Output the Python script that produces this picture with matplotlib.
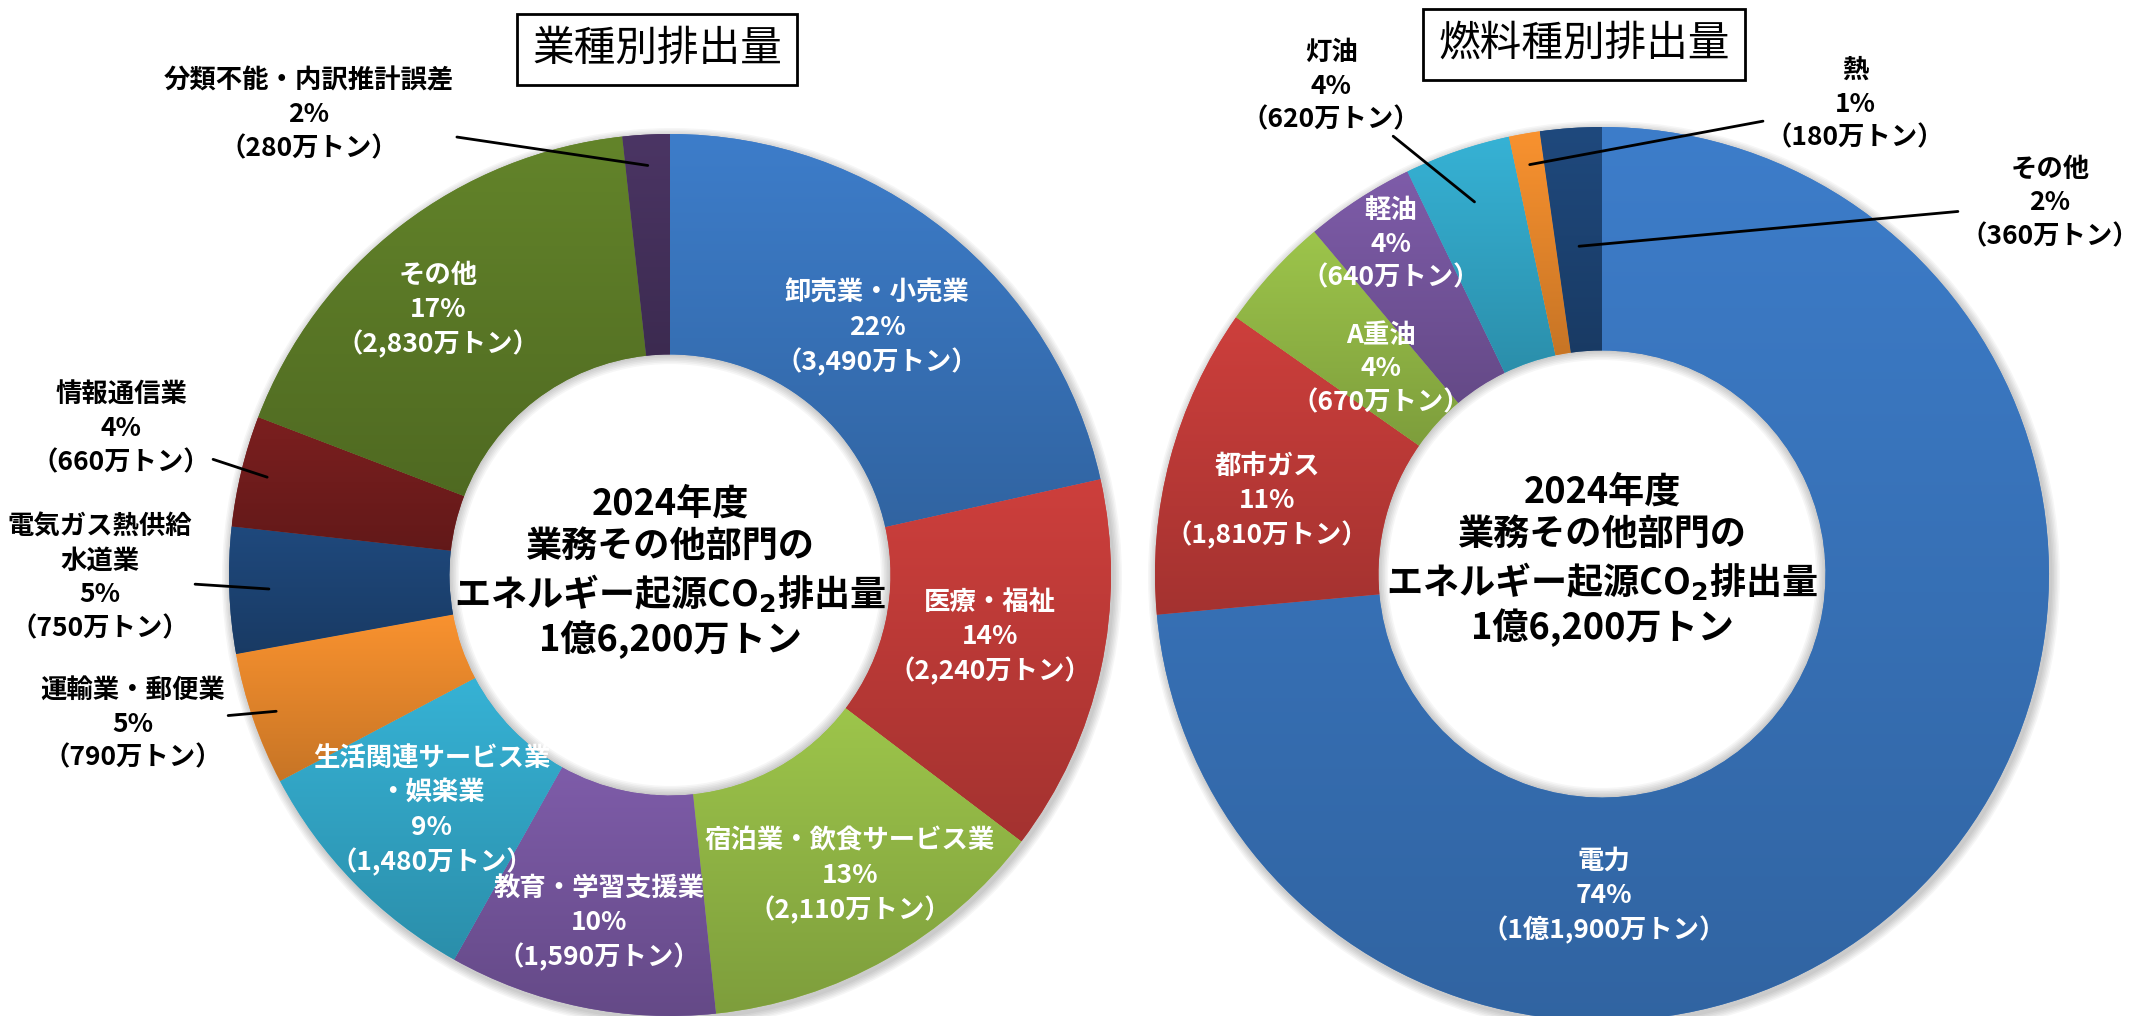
import numpy as np
import matplotlib
matplotlib.use('Agg')
import matplotlib.pyplot as plt
from matplotlib.patches import Wedge
from matplotlib.colors import to_rgb

plt.rcParams['font.family'] = ['Noto Sans CJK JP', 'DejaVu Sans']
plt.rcParams['mathtext.fontset'] = 'dejavusans'

W, H = 2136, 1016

# ---- data (万トン) ----
# 業種別排出量, clockwise from 12 o'clock
ind_names = ['卸売業・小売業', '医療・福祉', '宿泊業・飲食サービス業', '教育・学習支援業',
             '生活関連サービス業\n・娯楽業', '運輸業・郵便業', '電気ガス熱供給\n水道業',
             '情報通信業', 'その他', '分類不能・内訳推計誤差']
ind_values = [3490, 2240, 2110, 1590, 1480, 790, 750, 660, 2830, 280]
ind_colors = ['#3d7dca', '#cd3f3c', '#9dc54b', '#7e5ca9', '#36b2d5', '#f9922f',
              '#1f497d', '#7b1f1f', '#63842a', '#4b3564']

# 燃料種別排出量
fuel_names = ['電力', '都市ガス', 'A重油', '軽油', '灯油', '熱', 'その他']
fuel_values = [11900, 1810, 670, 640, 620, 180, 360]
fuel_colors = ['#3d7dca', '#cd3f3c', '#9dc54b', '#7e5ca9', '#36b2d5', '#f9922f', '#1f497d']

center_text = '2024年度\n業務その他部門の\nエネルギー起源CO$_\\mathbf{2}$排出量\n1億6,200万トン'

# ---- layout (image pixels, y from top) ----
ind_label_xy = [(877, 328), (990, 637), (850, 876), (599, 923), (432, 811),
                (133, 724), (100, 578), (121, 429), (438, 310), (309, 115)]
ind_leader_r = [None, None, None, None, None, 0.945, 0.91, 0.94, None, 0.93]
fuel_label_xy = [(1604, 896), (1267, 501), (1381, 369), (1391, 244),
                 (1331, 86), (1855, 104), (2050, 203)]
fuel_leader_r = [None, None, None, None, 0.88, 0.93, 0.735]


def fmt_amount(v):
    if v >= 10000:
        return f'{v // 10000}億{v % 10000:,}万トン'
    return f'{v:,}万トン'


def donut(ax, names, values, colors, cx, cy, r, label_xy, leader_r,
          title, title_xy, center_y):
    cy = H - cy
    r_in = r * 0.5

    # soft shadow just outside the ring and just inside the hole
    for k in range(1, 7):
        ax.add_patch(Wedge((cx + 2, cy - 3), r + k * 1.5, 0, 360, width=k * 1.5 + 6,
                           color='black', alpha=0.035, lw=0, zorder=0.5))
        ax.add_patch(Wedge((cx, cy), r_in, 0, 360, width=k * 1.6, color='black',
                           alpha=0.035, lw=0, zorder=1.5))

    wedges, _ = ax.pie(values, colors=colors, startangle=90, counterclock=False,
                       center=(cx, cy), radius=r, frame=True,
                       wedgeprops=dict(width=r - r_in, linewidth=0))

    # vertical gradient per slice
    t = np.linspace(0, 1, 128)[:, None, None]
    for w, c in zip(wedges, colors):
        x0, y0, x1, y1 = w.get_path().get_extents().extents
        top = np.array(to_rgb(c))
        grad = top * (1 - t) + top * 0.8 * t
        im = ax.imshow(grad, extent=(x0, x1, y0, y1), origin='upper',
                       aspect='auto', interpolation='bilinear', zorder=2)
        im.set_clip_path(w)

    total = sum(values)
    for w, name, v, (lx, ly), lr in zip(wedges, names, values, label_xy, leader_r):
        pct = int(v * 100 / total + 0.5)
        txt = f'{name}\n{pct}%\n（{fmt_amount(v)}）'
        if lr is None:
            ax.text(lx, H - ly, txt, color='white', fontsize=19, fontweight='bold',
                    ha='center', va='center', linespacing=1.33, zorder=5)
        else:
            ang = np.deg2rad((w.theta1 + w.theta2) / 2)
            px, py = cx + lr * r * np.cos(ang), cy + lr * r * np.sin(ang)
            ax.annotate(txt, xy=(px, py), xytext=(lx, H - ly), color='black',
                        fontsize=19, fontweight='bold', ha='center', va='center',
                        linespacing=1.33, zorder=5,
                        arrowprops=dict(arrowstyle='-', color='black', lw=2,
                                        shrinkA=0, shrinkB=0))

    ax.text(cx, H - center_y, center_text, fontsize=26, fontweight='bold',
            ha='center', va='center', linespacing=1.2, zorder=5)
    ax.text(title_xy[0], H - title_xy[1], title, fontsize=30, ha='center', va='center',
            zorder=5, bbox=dict(boxstyle='square,pad=0.36', fc='white', ec='black', lw=2))


fig = plt.figure(figsize=(W / 100, H / 100), dpi=100)
ax = fig.add_axes([0, 0, 1, 1])

donut(ax, ind_names, ind_values, ind_colors, 670, 575, 441,
      ind_label_xy, ind_leader_r, '業種別排出量', (657, 49), 572)
donut(ax, fuel_names, fuel_values, fuel_colors, 1602, 574, 447,
      fuel_label_xy, fuel_leader_r, '燃料種別排出量', (1584, 44), 560)

ax.set_aspect('auto')
ax.set_xlim(0, W)
ax.set_ylim(0, H)
ax.axis('off')

fig.savefig('out.png', dpi=100, facecolor='white')
